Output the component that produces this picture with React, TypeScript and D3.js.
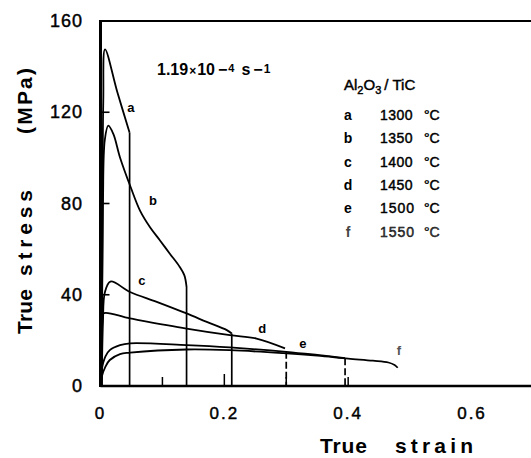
import React from "react";
import * as d3 from "d3";

const W = 531;
const H = 458;

// data: [true strain, true stress (MPa)]
const curveA: [number, number][] = [[0.002, 0], [0.003, 60], [0.0045, 125], [0.0073, 147.6], [0.027, 129], [0.047, 111]];
const curveB: [number, number][] = [[0.002, 0], [0.004, 80], [0.007, 108], [0.0126, 114.1], [0.0207, 110.5], [0.0315, 100.2], [0.0488, 87.1], [0.0638, 76.9], [0.08, 69.6], [0.0961, 63.8], [0.112, 58], [0.128, 52.2], [0.1355, 48.5], [0.139, 43.4]];
const curveC: [number, number][] = [[0.002, 0], [0.004, 28], [0.007, 41], [0.016, 45.8], [0.0477, 41.2], [0.0908, 36.9], [0.139, 31.8], [0.1716, 28.1], [0.204, 24.5], [0.212, 23]];
const curveD: [number, number][] = [[0.001, 0], [0.002, 27], [0.004, 31.8], [0.0477, 29.6], [0.139, 25.2], [0.209, 22.3], [0.252, 20.8], [0.298, 16.5]];
const curveE: [number, number][] = [[0.001, 0], [0.002, 7], [0.008, 13], [0.015, 15.7], [0.0315, 17.9], [0.0477, 18.7], [0.139, 17.9], [0.209, 16.9], [0.3, 15], [0.35, 13.6], [0.395, 12.2]];
const curveF: [number, number][] = [[0.001, 0], [0.002, 4], [0.008, 8.5], [0.015, 11.4], [0.0315, 14], [0.0477, 14.6], [0.139, 16], [0.209, 15.7], [0.295, 14.4], [0.35, 13.3], [0.4, 12], [0.44, 11.1], [0.465, 10.3], [0.475, 9.2], [0.48, 8]];

// fracture drops
const dropStrain = [0.047, 0.139, 0.212, 0.3, 0.395];
const dropStress = [111, 43.4, 23, 15, 12.2];
const dropDashed = [false, false, false, true, true];

const curveKeys = ["a", "b", "c", "d", "e", "f"];
const labelStrain = [0.049, 0.0849, 0.067, 0.261, 0.327, 0.482];
const labelStress = [122, 81.5, 46.3, 25.3, 18.8, 15.7];
const legendTemps = ["1300", "1350", "1400", "1450", "1500", "1550"];

const xTickLabels = [0, 0.2, 0.4, 0.6];
const xMinorTicks = [0.1, 0.2, 0.3, 0.4];
const yTickLabels = [0, 40, 80, 120, 160];
const yInnerTicks = [40, 80, 120];

export default function App() {
  const x = d3.scaleLinear().domain([0, 0.6]).range([100.5, 472]);
  const y = d3.scaleLinear().domain([0, 160]).range([386, 21]);
  const line = d3
    .line<[number, number]>()
    .x((d) => x(d[0]))
    .y((d) => y(d[1]))
    .curve(d3.curveCatmullRom.alpha(0.5));
  const curves = [curveA, curveB, curveC, curveD, curveE, curveF];
  const font = "'Liberation Sans', Arial, Helvetica, sans-serif";
  const x0 = x(0);
  const xEnd = W;
  const ink = { stroke: "#000", strokeWidth: 0.45 };

  return (
    <svg
      width={W}
      height={H}
      style={{ position: "absolute", left: 0, top: 0, background: "#fff" }}
      fontFamily={font}
    >
      <rect x={0} y={0} width={W} height={H} fill="#fff" />
      {/* frame */}
      <line x1={x0} x2={xEnd} y1={y(160)} y2={y(160)} stroke="#000" strokeWidth={2} />
      <line x1={x0} x2={xEnd} y1={y(0)} y2={y(0)} stroke="#000" strokeWidth={2.5} />
      <line x1={x0} x2={x0} y1={y(160) - 1} y2={y(0) + 1} stroke="#000" strokeWidth={3} />

      {/* inner ticks */}
      {yInnerTicks.map((t) => (
        <line key={"yt" + t} x1={x0} x2={x0 + 9} y1={y(t)} y2={y(t)} stroke="#000" strokeWidth={1.6} />
      ))}
      {xMinorTicks.map((t) => (
        <line key={"xt" + t} x1={x(t)} x2={x(t)} y1={y(0)} y2={y(0) - (t === 0.2 ? 12 : 9)} stroke="#000" strokeWidth={1.5} />
      ))}

      {/* curves */}
      {curves.map((c, i) => (
        <path key={"c" + i} d={line(c) || ""} fill="none" stroke="#000" strokeWidth={1.8} strokeLinejoin="round" />
      ))}
      {dropStrain.map((s, i) => (
        <line
          key={"d" + i}
          x1={x(s)}
          x2={x(s)}
          y1={y(dropStress[i])}
          y2={y(0)}
          stroke="#000"
          strokeWidth={1.7}
          strokeDasharray={dropDashed[i] ? "7 3" : undefined}
        />
      ))}

      {/* curve labels */}
      {curveKeys.map((k, i) => (
        <text
          key={"l" + k}
          x={x(labelStrain[i])}
          y={y(labelStress[i])}
          fontSize={13}
          fontWeight="bold"
          textAnchor="middle"
          dominantBaseline="central"
          fill={k === "f" ? "#555" : "#000"}
        >
          {k}
        </text>
      ))}

      {/* y tick labels */}
      {yTickLabels.map((t) => (
        <text key={"yl" + t} x={83} y={y(t)} fontSize={18} textAnchor="end" dominantBaseline="central" letterSpacing={1} {...ink}>
          {t}
        </text>
      ))}
      {/* x tick labels */}
      {xTickLabels.map((t) => (
        <text key={"xl" + t} x={x(t)} y={419} fontSize={17} textAnchor="middle" letterSpacing={2} {...ink}>
          {t === 0 ? "0" : t.toFixed(1)}
        </text>
      ))}

      {/* axis titles */}
      <text x={320} y={453} fontSize={21} fontWeight="bold" textLength={47} lengthAdjust="spacing">True</text>
      <text x={395} y={453} fontSize={21} fontWeight="bold" textLength={78} lengthAdjust="spacing">strain</text>
      <g transform="translate(32,0) rotate(-90)">
        <text x={-334} y={0} fontSize={21} fontWeight="bold" textLength={45} lengthAdjust="spacing">True</text>
        <text x={-276} y={0} fontSize={21} fontWeight="bold" textLength={86} lengthAdjust="spacing">stress</text>
        <text x={-134} y={0} fontSize={21} fontWeight="bold" textLength={66} lengthAdjust="spacing">(MPa)</text>
      </g>

      {/* strain rate annotation */}
      <text x={157} y={75} fontSize={16} fontWeight="bold">
        <tspan>1.19</tspan>
        <tspan fontSize={12} dx={1}>×</tspan>
        <tspan dx={1}>10</tspan>
        <tspan dx={3}>−</tspan>
        <tspan fontSize={11} dy={-3} dx={1}>4</tspan>
        <tspan dy={3} dx={7}>s</tspan>
        <tspan dx={3}>−</tspan>
        <tspan fontSize={12} dy={-2} dx={1}>1</tspan>
      </text>

      {/* legend */}
      <text x={344} y={90} fontSize={15} {...ink}>
        <tspan>Al</tspan>
        <tspan fontSize={11} dy={4}>2</tspan>
        <tspan dy={-4}>O</tspan>
        <tspan fontSize={11} dy={4}>3</tspan>
        <tspan dy={-4} dx={3}>/</tspan>
        <tspan dx={4}>TiC</tspan>
      </text>
      {curveKeys.map((k, i) => {
        const yy = 120 + i * 23.3;
        const faded = i >= 4;
        return (
          <g key={"lg" + k} fill={i === 5 ? "#444" : "#000"}>
            <text x={348} y={yy} fontSize={14} fontWeight="bold" textAnchor="middle">{k}</text>
            <text x={380} y={yy} fontSize={14} letterSpacing={faded ? 1 : 0.5} {...ink}>{legendTemps[i]}</text>
            <text x={424} y={yy} fontSize={14} {...ink}>°C</text>
          </g>
        );
      })}
    </svg>
  );
}
